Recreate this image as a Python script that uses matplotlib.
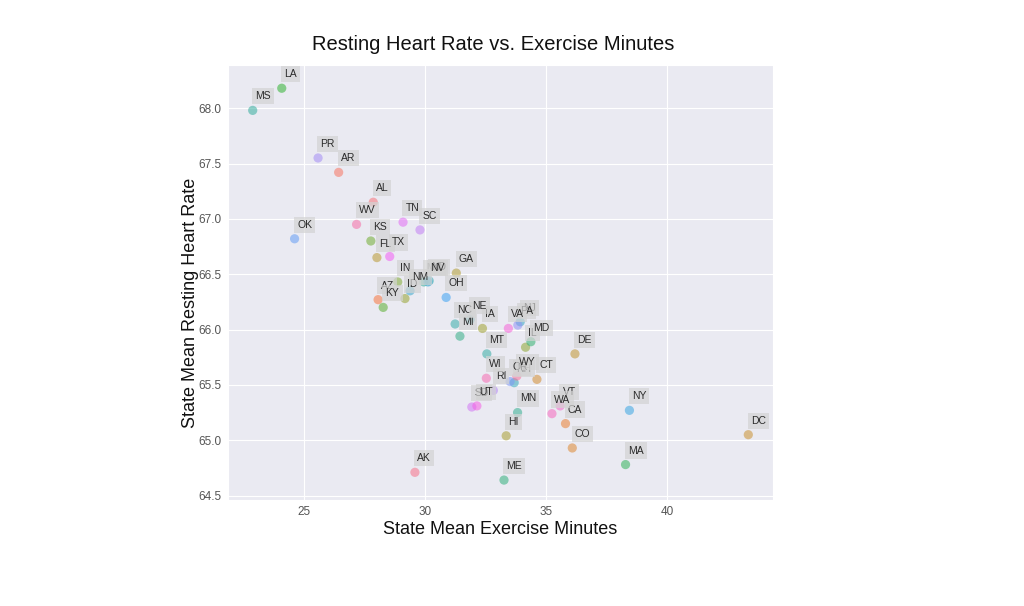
import matplotlib
matplotlib.use("Agg")
import matplotlib.pyplot as plt
import seaborn as sns

states = ["AK", "AL", "AR", "AZ", "CA", "CO", "CT", "DC", "DE", "FL", "GA", "HI",
          "IA", "ID", "IL", "IN", "KS", "KY", "LA", "MA", "MD", "ME", "MI", "MN",
          "MO", "MS", "MT", "NC", "ND", "NE", "NH", "NJ", "NM", "NV", "NY", "OH",
          "OK", "OR", "PA", "PR", "RI", "SC", "SD", "TN", "TX", "UT", "VA", "VT",
          "WA", "WI", "WV", "WY"]
exercise = [29.59, 27.87, 26.44, 28.07, 35.81, 36.09, 34.63, 43.36, 36.20, 28.02, 31.30, 33.36,
            32.38, 29.18, 34.16, 28.88, 27.77, 28.28, 24.09, 38.29, 34.38, 33.27, 31.45, 33.83,
            29.96, 22.89, 32.56, 31.25, 30.18, 31.87, 33.69, 33.94, 29.39, 30.13, 38.45, 30.88,
            24.62, 33.52, 33.84, 25.59, 32.83, 29.80, 31.94, 29.10, 28.55, 32.15, 33.45, 35.59,
            35.25, 32.54, 27.18, 33.80]
heart_rate = [64.71, 67.15, 67.42, 66.27, 65.15, 64.93, 65.55, 65.05, 65.78, 66.65, 66.51, 65.04,
              66.01, 66.28, 65.84, 66.43, 66.80, 66.20, 68.18, 64.78, 65.89, 64.64, 65.94, 65.25,
              66.43, 67.98, 65.78, 66.05, 66.44, 66.09, 65.52, 66.07, 66.35, 66.43, 65.27, 66.29,
              66.82, 65.53, 66.04, 67.55, 65.45, 66.90, 65.30, 66.97, 66.66, 65.31, 66.01, 65.31,
              65.24, 65.56, 66.95, 65.58]

sns.set_style("darkgrid")
plt.rcParams['font.family'] = ['Liberation Sans', 'DejaVu Sans']

fig = plt.figure(figsize=(10.24, 6.06), dpi=100)
ax = fig.add_axes([228/1024, 1 - 500/606, 545/1024, 435/606])

palette = sns.color_palette("husl", len(states))
ax.scatter(exercise, heart_rate, c=palette, s=44, alpha=0.55, linewidths=0, zorder=2)

for st, xv, yv in zip(states, exercise, heart_rate):
    ax.text(xv + 0.1, yv + 0.1, st, fontsize=7.5, color='#2a2a2a', zorder=3,
            bbox=dict(facecolor='lightgray', alpha=0.7, edgecolor='none', boxstyle='square,pad=0.3'))

ax.set_xlim(21.87, 44.38)
ax.set_ylim(64.46, 68.39)
ax.set_xticks([25, 30, 35, 40])
ax.set_yticks([64.5, 65.0, 65.5, 66.0, 66.5, 67.0, 67.5, 68.0])
ax.tick_params(axis='both', labelsize=8.5, labelcolor='#555555', length=0, pad=4.5)
ax.set_xlabel("State Mean Exercise Minutes", fontsize=13, color='#111111', labelpad=2)
ax.set_ylabel("State Mean Resting Heart Rate", fontsize=13, color='#111111')
ax.yaxis.set_label_coords(-0.054, 0.453)
ax.set_title("Resting Heart Rate vs. Exercise Minutes", fontsize=14.5, color='#111111',
             pad=11, x=0.487)

fig.savefig("out.png", dpi=100)
